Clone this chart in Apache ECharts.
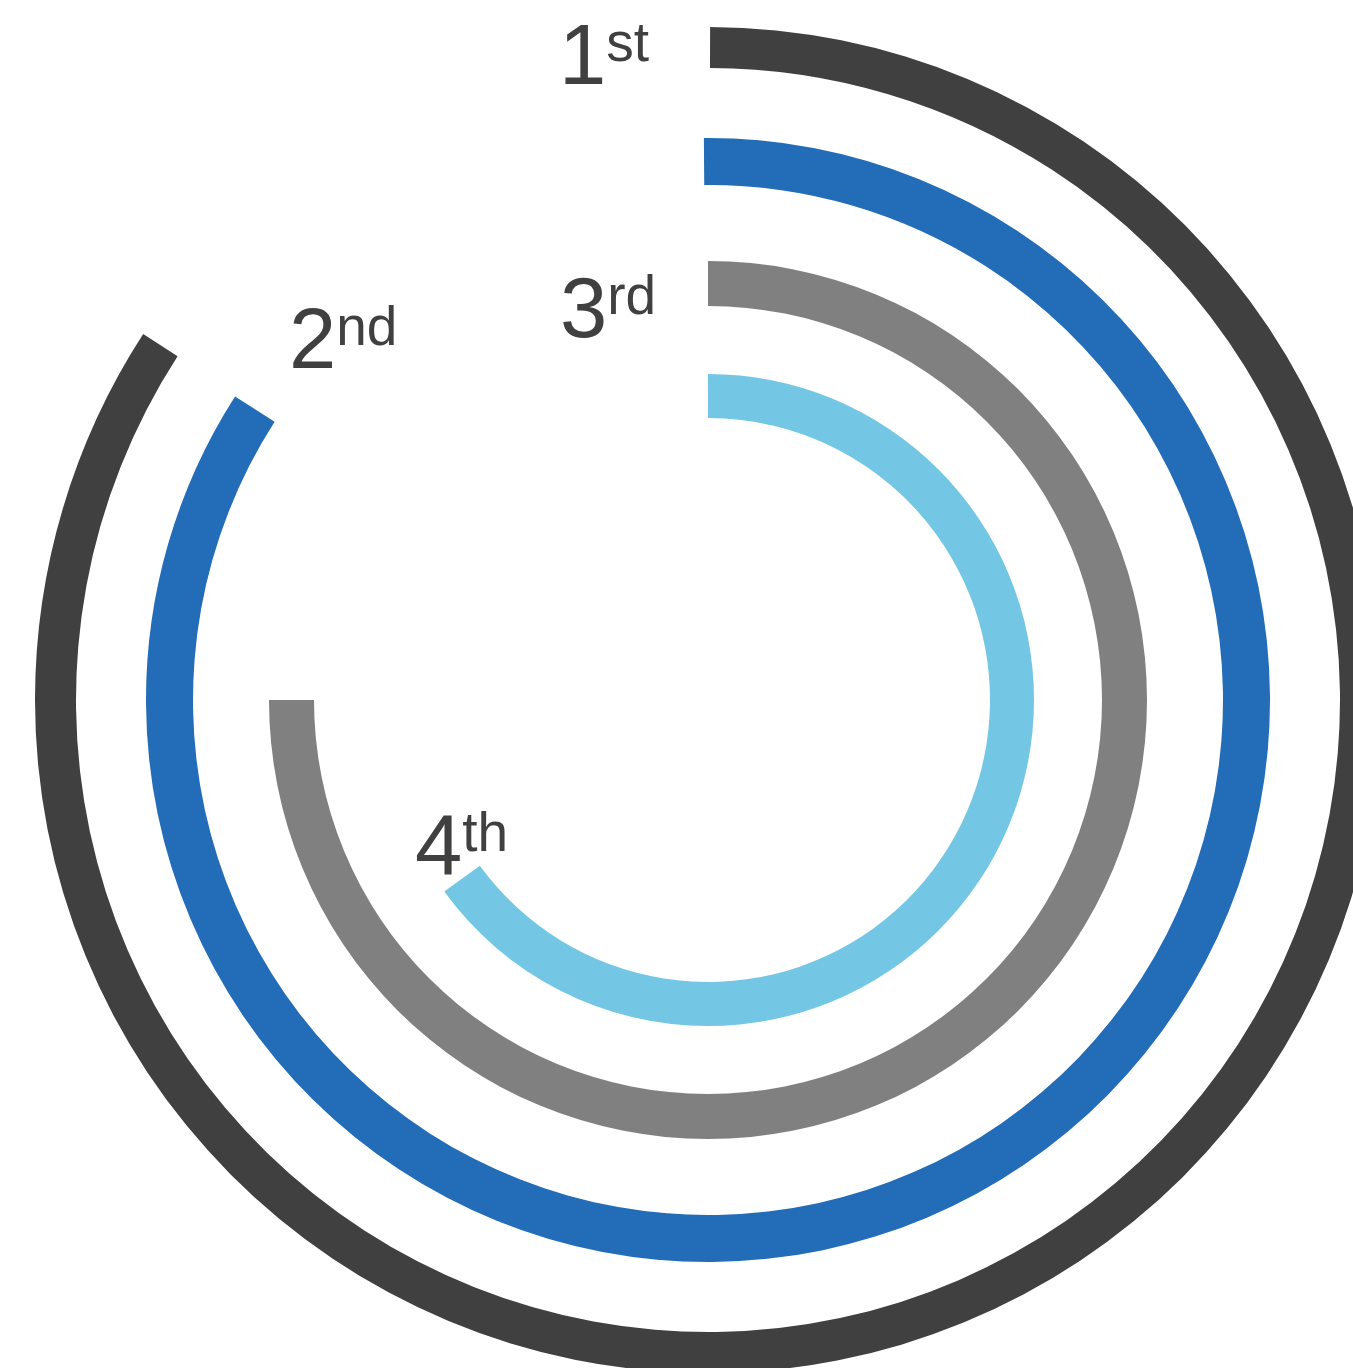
<!DOCTYPE html>
<html>
<head>
<meta charset="utf-8">
<script src="https://cdn.jsdelivr.net/npm/echarts@6/dist/echarts.min.js"></script>
<style>
html,body{margin:0;padding:0;background:#fff;}
#chart{width:1353px;height:1368px;}
</style>
</head>
<body>
<div id="chart"></div>
<script>
// Data
var ranks = ['1', '2', '3', '4'];
var suffixes = ['st', 'nd', 'rd', 'th'];
var values = [84.1, 84.2, 75, 65];   // percent of full circle
var total = 100;

// Styles
var colors = ['#404040', '#226cb8', '#808080', '#73c7e5'];
var radii = [[632, 673], [515, 562], [394, 439], [282, 326]];
var starts = [89.82, 90.42, 90, 90];
var labelPos = [[559, 18.5], [289, 302.5], [560, 271], [415, 808.5]];
var center = [708, 700];

var chart = echarts.init(document.getElementById('chart'), null, {renderer: 'canvas'});

var series = values.map(function (v, i) {
  return {
    type: 'pie',
    center: center,
    radius: radii[i],
    startAngle: starts[i],
    clockwise: true,
    silent: true,
    animation: false,
    label: {show: false},
    labelLine: {show: false},
    itemStyle: {borderWidth: 0},
    emphasis: {disabled: true},
    data: [
      {value: v, itemStyle: {color: colors[i]}},
      {value: total - v, itemStyle: {color: 'rgba(0,0,0,0)'}}
    ]
  };
});

var graphics = ranks.map(function (r, i) {
  return {
    type: 'text',
    x: labelPos[i][0],
    y: labelPos[i][1],
    silent: true,
    style: {
      text: '{a|' + r + '}{b|' + suffixes[i] + '}',
      align: 'left',
      verticalAlign: 'top',
      rich: {
        a: {fontSize: 85, lineHeight: 85, fontFamily: 'Liberation Sans, Arial, sans-serif', fill: '#404040', color: '#404040'},
        b: {fontSize: 55, lineHeight: 53, fontFamily: 'Liberation Sans, Arial, sans-serif', fill: '#404040', color: '#404040', verticalAlign: 'top'}
      }
    }
  };
});

chart.setOption({
  backgroundColor: '#ffffff',
  animation: false,
  series: series,
  graphic: graphics
});
</script>
</body>
</html>
